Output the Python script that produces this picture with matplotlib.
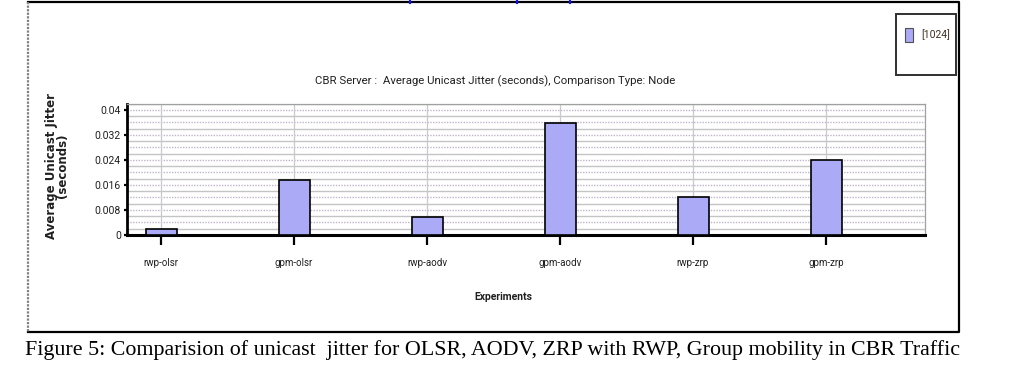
import matplotlib
matplotlib.use("Agg")
import matplotlib.pyplot as plt
from matplotlib.patches import Rectangle
import numpy as np

categories = ["rwp-olsr", "gpm-olsr", "rwp-aodv", "gpm-aodv", "rwp-zrp", "gpm-zrp"]
jitter = [0.0020, 0.0175, 0.0057, 0.0357, 0.0122, 0.0238]
ytick_vals = [0, 0.008, 0.016, 0.024, 0.032, 0.04]
ytick_labels = ["0", "0.008", "0.016", "0.024", "0.032", "0.04"]
series_name = "[1024]"
title = "CBR Server :  Average Unicast Jitter (seconds), Comparison Type: Node"
ylabel = "Average Unicast Jitter\n(seconds)"
xlabel = "Experiments"
caption = ("Figure 5: Comparision of unicast  jitter for OLSR, AODV, ZRP with RWP, "
           "Group mobility in CBR Traffic")

W, H = 1028, 369
fig = plt.figure(figsize=(W / 100, H / 100), dpi=100)
fig.patch.set_facecolor("white")

narrow = ["Roboto", "DejaVu Sans"]

def fx(px):
    return px / W

def fy(py):
    return 1 - py / H

# outer frame
frame = fig.add_axes([0, 0, 1, 1], zorder=-5)
frame.set_xlim(0, W)
frame.set_ylim(H, 0)
frame.axis("off")
frame.plot([28, 959, 959, 28], [2, 2, 332, 332], color="black", lw=1.6)
frame.plot([28, 28], [2, 332], color="#808080", lw=1.6, ls=(0, (1, 0.6)))
for xb in [410, 517, 570]:
    frame.plot([xb, xb], [0, 3], color="#1010ff", lw=1.5)

# main axes
left, right = 127, 925
y0px = 234.8
ymax = 0.042
scale = 3.125 / 0.001
top = y0px - ymax * scale
ax = fig.add_axes([fx(left), fy(y0px), fx(right - left), (y0px - top) / H])
x = np.arange(len(categories))
ax.set_xlim(-0.256, 5.744)
ax.set_ylim(0, ymax)

for k, yv in enumerate(np.arange(0.002, ymax + 1e-9, 0.002)):
    if k % 2 == 0:
        ax.axhline(yv, color="#c4c4c4", lw=1.0, zorder=0)
    else:
        ax.axhline(yv, color="#c0b4cc", lw=1.0, ls=(0, (1, 1)), zorder=0)
for xi in x:
    ax.axvline(xi, color="#c8c8d0", lw=0.9, zorder=0)

ax.bar(x, jitter, width=0.233, color="#aaaaf6", edgecolor="black", lw=1.2,
       zorder=3, label=series_name)

ax.set_xticks(x)
ax.set_xticklabels(categories, fontsize=7, family=narrow, color="#202020")
ax.set_yticks(ytick_vals)
ax.set_yticklabels(ytick_labels, fontsize=7.5, family=narrow, color="#202020")
ax.tick_params(axis="x", length=7, width=1.6, pad=10, color="black")
ax.tick_params(axis="y", length=2.5, width=1.6, pad=2, color="black")
for s in ["top", "right"]:
    ax.spines[s].set_color("#a0a0a0")
    ax.spines[s].set_linewidth(0.9)
ax.spines["left"].set_linewidth(2)
ax.spines["bottom"].set_linewidth(2.2)

fig.text(fx(495), fy(81), title, ha="center", va="center", fontsize=8.2,
         family=narrow, color="#202020")
fig.text(fx(57), fy(166), ylabel, ha="center", va="center", rotation=90,
         fontsize=8.5, fontweight="bold", linespacing=0.85, color="#202020")
fig.text(fx(503), fy(297), xlabel, ha="center", va="center", fontsize=7.5,
         family=narrow, fontweight="bold", color="#202020")
fig.text(fx(25), fy(350), caption, ha="left", va="center", fontsize=15.8,
         family="Liberation Serif", color="black")

# legend box
frame.add_patch(Rectangle((896, 14), 60, 61, facecolor="white", edgecolor="#303030", lw=1.4, zorder=2))
frame.add_patch(Rectangle((905, 28), 8, 14, facecolor="#aaaaf6", edgecolor="#505050", lw=0.8, zorder=3))
frame.text(921, 35, series_name, ha="left", va="center", fontsize=7.5,
           family=narrow, color="#403020", zorder=3)

fig.savefig("out.png", dpi=100, facecolor="white")
